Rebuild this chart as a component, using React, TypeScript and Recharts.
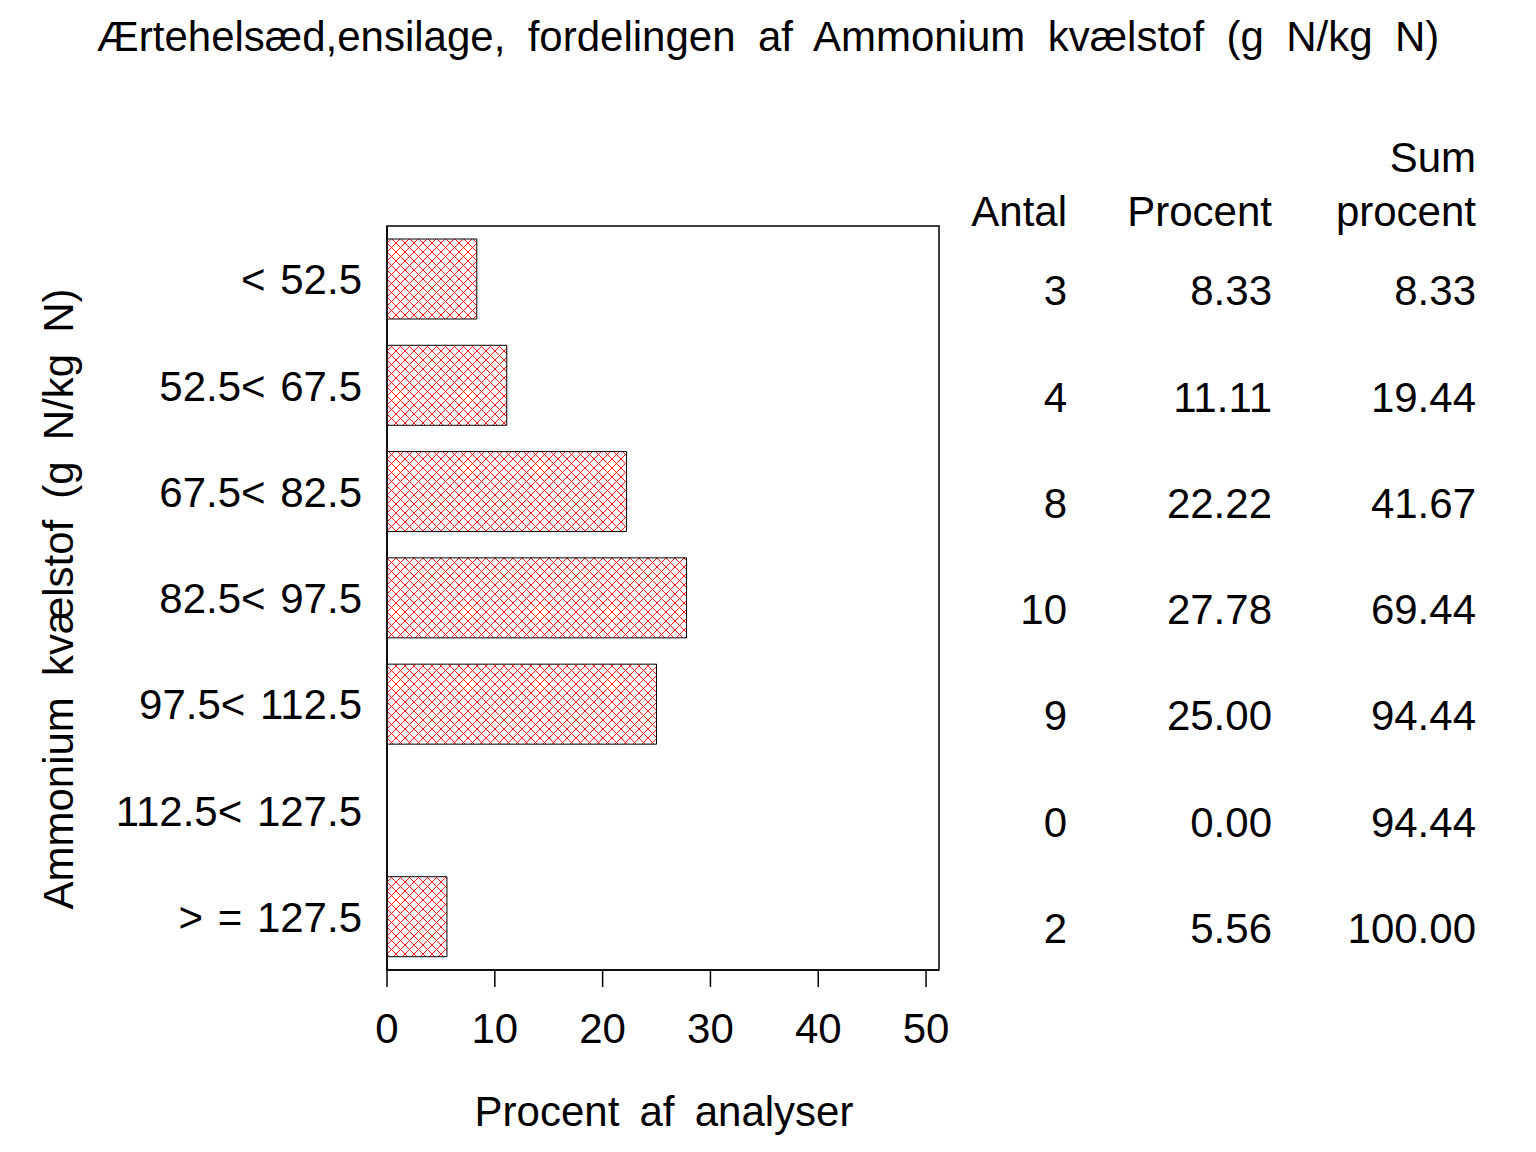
import React from "react";
import { BarChart, Bar, XAxis, YAxis, ReferenceArea } from "recharts";

const categories = ["< 52.5", "52.5< 67.5", "67.5< 82.5", "82.5< 97.5", "97.5< 112.5", "112.5< 127.5", "> = 127.5"];
const antal = [3, 4, 8, 10, 9, 0, 2];
const procent = [8.33, 11.11, 22.22, 27.78, 25.0, 0.0, 5.56];
const sumProcent = [8.33, 19.44, 41.67, 69.44, 94.44, 94.44, 100.0];
const xTicks = [0, 10, 20, 30, 40, 50];

const title = "Ærtehelsæd,ensilage,  fordelingen  af  Ammonium  kvælstof  (g  N/kg  N)";
const yTitle = "Ammonium  kvælstof  (g  N/kg  N)";
const xTitle = "Procent  af  analyser";

const data = categories.map((c, i) => ({ cat: c, pct: procent[i] }));

const FONT = "'Liberation Sans', Arial, sans-serif";
const FS = 42;

const LeftTick = (props: any) => {
  const { x, y, payload, index } = props;
  const i = typeof index === "number" ? index : categories.indexOf(payload.value);
  const base = 387;
  const ty = y + 11;
  return (
    <g fontFamily={FONT} fontSize={FS} fill="#000">
      <text x={x} y={y} dy="0.36em" textAnchor="end" wordSpacing={3} style={{ whiteSpace: "pre" }}>{payload.value}</text>
      <text x={base + 680} y={ty} dy="0.36em" textAnchor="end">{String(antal[i])}</text>
      <text x={base + 885} y={ty} dy="0.36em" textAnchor="end">{procent[i].toFixed(2)}</text>
      <text x={base + 1089} y={ty} dy="0.36em" textAnchor="end">{sumProcent[i].toFixed(2)}</text>
    </g>
  );
};

export default function App() {
  return (
    <div style={{ position: "absolute", left: 0, top: 0, width: 1536, height: 1152, background: "#fff" }}>
      <svg width={0} height={0} style={{ position: "absolute" }}>
        <defs>
          <pattern id="xhatch" patternUnits="userSpaceOnUse" width={9} height={9}>
            <rect x={0} y={0} width={9} height={9} fill="#fff" />
            <path d="M0,0 L9,9 M9,0 L0,9 M-1,8 L1,10 M8,-1 L10,1 M8,10 L10,8 M-1,1 L1,-1" stroke="#ff0000" strokeWidth={0.9} />
          </pattern>
        </defs>
      </svg>
      <BarChart
        width={1536}
        height={1152}
        data={data}
        layout="vertical"
        margin={{ top: 226, right: 597, bottom: 82, left: 0 }}
        style={{ fontFamily: FONT }}
      >
        <XAxis
          type="number"
          dataKey="pct"
          domain={[0, 51.2]}
          ticks={xTicks}
          interval={0}
          allowDataOverflow
          height={100}
          tickSize={17}
          tickMargin={26}
          stroke="#000"
          axisLine={{ stroke: "#000", strokeWidth: 1.5 }}
          tickLine={{ stroke: "#000", strokeWidth: 1.5 }}
          tick={{ fontSize: FS, fill: "#000", fontFamily: FONT }}
        />
        <YAxis
          type="category"
          dataKey="cat"
          width={387}
          tickSize={0}
          tickMargin={25}
          interval={0}
          axisLine={{ stroke: "#000", strokeWidth: 1.5 }}
          tickLine={false}
          tick={<LeftTick />}
        />
        <ReferenceArea x1={0} x2={51.2} fill="none" fillOpacity={0} stroke="#000" strokeWidth={1.5} ifOverflow="visible" />
        <Bar dataKey="pct" barSize={80} fill="url(#xhatch)" stroke="#000" strokeWidth={1} isAnimationActive={false} />
      </BarChart>
      <svg width={1536} height={1152} style={{ position: "absolute", left: 0, top: 0, pointerEvents: "none" }}>
        <g fontFamily={FONT} fontSize={FS} fill="#000" style={{ whiteSpace: "pre" }}>
          <text x={768} y={51} textAnchor="middle" wordSpacing={10.7}>{title}</text>
          <text x={664} y={1126} textAnchor="middle" wordSpacing={8.5}>{xTitle}</text>
          <text x={73} y={599} textAnchor="middle" transform="rotate(-90 73 599)" wordSpacing={9.4}>{yTitle}</text>
          <text x={1476} y={172} textAnchor="end">Sum</text>
          <text x={1067} y={226} textAnchor="end">Antal</text>
          <text x={1272} y={226} textAnchor="end">Procent</text>
          <text x={1476} y={226} textAnchor="end">procent</text>
        </g>
      </svg>
    </div>
  );
}
